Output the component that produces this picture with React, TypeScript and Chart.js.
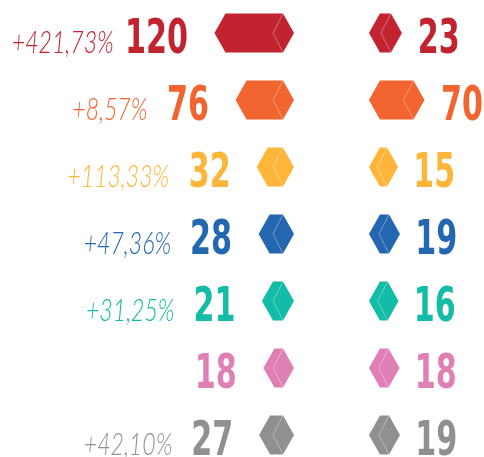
import React, { useEffect, useRef } from 'react';
import { Chart, registerables } from 'chart.js';

Chart.register(...registerables);

const rows = ['r1', 'r2', 'r3', 'r4', 'r5', 'r6', 'r7'];
const leftValues = [120, 76, 32, 28, 21, 18, 27];
const rightValues = [23, 70, 15, 19, 16, 18, 19];
const changeLabels = ['+421,73%', '+8,57%', '+113,33%', '+47,36%', '+31,25%', '', '+42,10%'];
const rowColors = ['#C1232F', '#F26531', '#FDB63A', '#2367B1', '#12BCA6', '#E07FB5', '#8F9190'];

const POINT = 11;
const NUM_FONT = 'bold 48px "Liberation Sans Narrow", "DejaVu Sans Condensed", "Liberation Sans", sans-serif';
const PCT_FONT = 'italic 300 31px Lato, "Roboto Light", Roboto, sans-serif';

function hexPath(ctx: CanvasRenderingContext2D, left: number, right: number, cy: number, h: number) {
  const top = cy - h / 2;
  const bot = cy + h / 2;
  ctx.beginPath();
  ctx.moveTo(left - POINT, cy);
  ctx.lineTo(left, top);
  ctx.lineTo(right, top);
  ctx.lineTo(right + POINT, cy);
  ctx.lineTo(right, bot);
  ctx.lineTo(left, bot);
  ctx.closePath();
}

function drawHex(ctx: CanvasRenderingContext2D, a: number, b: number, cy: number, h: number, color: string) {
  const left = Math.min(a, b);
  const right = Math.max(a, b);
  hexPath(ctx, left, right, cy, h);
  ctx.fillStyle = color;
  ctx.fill();
  ctx.beginPath();
  ctx.moveTo(right, cy - h / 2);
  ctx.lineTo(right - 10, cy);
  ctx.lineTo(right, cy + h / 2);
  ctx.strokeStyle = 'rgba(255,255,255,0.45)';
  ctx.lineWidth = 0.8;
  ctx.stroke();
}

// draws text horizontally scaled, positioned by its ink edges; returns ink left edge
function drawScaledText(ctx: CanvasRenderingContext2D, text: string, x: number, y: number, sx: number, align: 'left' | 'right') {
  const m = ctx.measureText(text);
  const inkL = -m.actualBoundingBoxLeft * sx;
  const inkR = m.actualBoundingBoxRight * sx;
  const startX = align === 'right' ? x - inkR : x - inkL;
  ctx.save();
  ctx.translate(startX, y);
  ctx.scale(sx, 1);
  ctx.textAlign = 'left';
  ctx.fillText(text, 0, 0);
  ctx.restore();
  return startX + inkL;
}

const hexPlugin = {
  id: 'hexRows',
  afterDatasetsDraw(chart: any) {
    const ctx: CanvasRenderingContext2D = chart.ctx;
    const leftMeta = chart.getDatasetMeta(0).data;
    const rightMeta = chart.getDatasetMeta(1).data;
    ctx.save();
    ctx.textBaseline = 'alphabetic';
    ctx.font = NUM_FONT;
    const numSx = 21 / ctx.measureText('0').width;
    ctx.font = PCT_FONT;
    const pctSx = 13.4 / ctx.measureText('0').width;
    rows.forEach((_, i) => {
      const color = rowColors[i];
      const L = leftMeta[i].getProps(['x', 'y', 'base', 'height'], true);
      const R = rightMeta[i].getProps(['x', 'y', 'base', 'height'], true);
      drawHex(ctx, L.x, L.base, L.y, L.height, color);
      drawHex(ctx, R.x, R.base, R.y, R.height, color);

      ctx.fillStyle = color;
      ctx.font = NUM_FONT;
      const numRight = Math.min(L.x, L.base) - POINT - 28;
      const inkLeft = drawScaledText(ctx, String(leftValues[i]), numRight, L.y + 19.5, numSx, 'right');
      drawScaledText(ctx, String(rightValues[i]), Math.max(R.x, R.base) + POINT + 18, R.y + 19.5, numSx, 'left');

      if (changeLabels[i]) {
        ctx.font = PCT_FONT;
        drawScaledText(ctx, changeLabels[i], inkLeft - (i === 0 ? 15 : 22), L.y + 20, pctSx, 'right');
      }
    });
    ctx.restore();
  },
};

export default function App() {
  const ref = useRef<HTMLCanvasElement | null>(null);
  useEffect(() => {
    if (!ref.current) return;
    const chart = new Chart(ref.current, {
      type: 'bar',
      data: {
        labels: rows,
        datasets: [
          {
            data: leftValues,
            xAxisID: 'xL',
            yAxisID: 'y',
            backgroundColor: 'rgba(0,0,0,0)',
            grouped: false,
            barThickness: 39,
          } as any,
          {
            data: rightValues,
            xAxisID: 'xR',
            yAxisID: 'y',
            backgroundColor: 'rgba(0,0,0,0)',
            grouped: false,
            barThickness: 39,
          } as any,
        ],
      },
      options: {
        indexAxis: 'y',
        responsive: false,
        animation: false,
        devicePixelRatio: 1,
        events: [],
        layout: { padding: { top: 33, bottom: 22, left: 0, right: 0 } },
        plugins: { legend: { display: false }, tooltip: { enabled: false } },
        scales: {
          y: { type: 'category', display: false, offset: false },
          xL: { type: 'linear', position: 'bottom', stack: 'x', stackWeight: 331, reverse: true, min: -100, max: 590, display: false },
          xR: { type: 'linear', position: 'bottom', stack: 'x', stackWeight: 153, min: -102, max: 217, display: false },
        } as any,
      },
      plugins: [hexPlugin],
    });
    return () => chart.destroy();
  }, []);
  return (
    <div style={{ position: 'fixed', left: 0, top: 0, width: 484, height: 457, background: '#fff' }}>
      <canvas ref={ref} width={484} height={457} style={{ width: 484, height: 457, display: 'block' }} />
    </div>
  );
}
